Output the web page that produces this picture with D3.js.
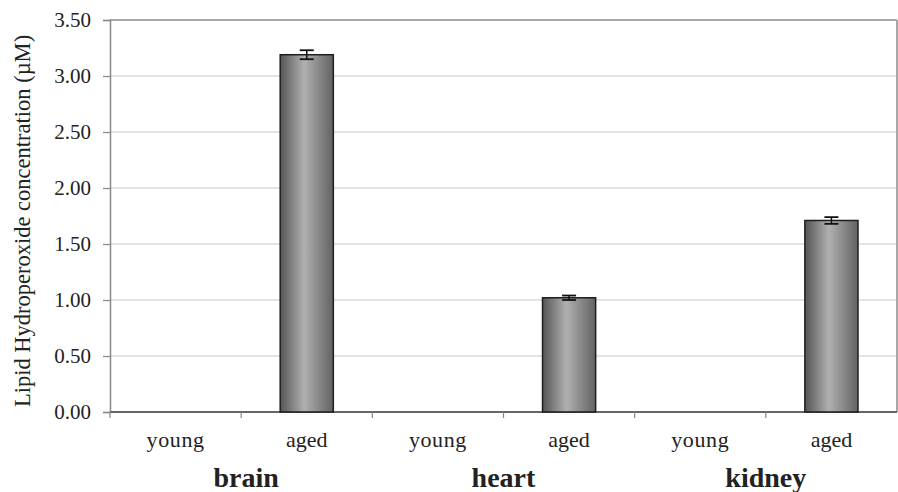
<!DOCTYPE html>
<html>
<head>
<meta charset="utf-8">
<script src="https://cdn.jsdelivr.net/npm/d3@7"></script>
<style>
  body { margin: 0; background: #fff; }
  text { font-family: "Liberation Serif", "Times New Roman", serif; fill: #222; }
</style>
</head>
<body>
<div id="chart"></div>
<script>
// data
var categories = ["brain-young", "brain-aged", "heart-young", "heart-aged", "kidney-young", "kidney-aged"];
var barLabels = ["young", "aged", "young", "aged", "young", "aged"];
var groups = ["brain", "heart", "kidney"];
var values = [0, 3.19, 0, 1.02, 0, 1.71];
var errors = [0, 0.04, 0, 0.02, 0, 0.03];
var yTicks = [0, 0.5, 1, 1.5, 2, 2.5, 3, 3.5];

var W = 898, H = 492;
var margin = {top: 20, right: 1, bottom: 80, left: 110},
    width = W - margin.left - margin.right,
    height = 412 - margin.top;

var svg = d3.select("#chart").append("svg")
    .attr("width", W)
    .attr("height", H);

var defs = svg.append("defs");
var grad = defs.append("linearGradient")
    .attr("id", "barfill")
    .attr("x1", "0%").attr("x2", "100%")
    .attr("y1", "0%").attr("y2", "0%");
grad.append("stop").attr("offset", "0%").attr("stop-color", "#555");
grad.append("stop").attr("offset", "45%").attr("stop-color", "#b0b0b0");
grad.append("stop").attr("offset", "100%").attr("stop-color", "#626262");

var g = svg.append("g")
    .attr("transform", "translate(" + margin.left + "," + margin.top + ")");

var x = d3.scaleBand()
    .domain(categories)
    .range([0, width])
    .padding(0);

var y = d3.scaleLinear()
    .domain([0, 3.5])
    .range([height, 0]);

// gridlines
g.selectAll(".grid")
  .data(yTicks.slice(1))
  .enter().append("line")
    .attr("class", "grid")
    .attr("x1", 0).attr("x2", width)
    .attr("y1", function(d) { return y(d); })
    .attr("y2", function(d) { return y(d); })
    .attr("stroke", function(d) { return d === 3.5 ? "#a8a8a8" : "#c8c8c8"; })
    .attr("stroke-width", function(d) { return d === 3.5 ? 2 : 1.2; });

// right border
g.append("line")
    .attr("x1", width).attr("x2", width)
    .attr("y1", 0).attr("y2", height)
    .attr("stroke", "#a8a8a8").attr("stroke-width", 2);

// y axis
var yAxis = d3.axisLeft(y)
    .tickValues(yTicks)
    .tickFormat(d3.format(".2f"))
    .tickSize(7)
    .tickPadding(12);

var ya = g.append("g").call(yAxis);
ya.select(".domain").attr("stroke", "#888").attr("stroke-width", 1.5);
ya.selectAll(".tick line").attr("stroke", "#888").attr("stroke-width", 1.2);
ya.selectAll(".tick text")
    .style("font-size", "21px")
    .attr("fill", "#222");

// x axis with ticks at category boundaries
var xa = g.append("g")
    .attr("transform", "translate(0," + height + ")");
xa.append("line")
    .attr("x1", 0).attr("x2", width)
    .attr("stroke", "#666").attr("stroke-width", 1.8);
xa.selectAll(".xtick")
  .data(categories)
  .enter().append("line")
    .attr("class", "xtick")
    .attr("x1", function(d) { return x(d); })
    .attr("x2", function(d) { return x(d); })
    .attr("y1", 0).attr("y2", 6)
    .attr("stroke", "#888").attr("stroke-width", 1.2);
xa.selectAll(".xlabel")
  .data(categories)
  .enter().append("text")
    .attr("class", "xlabel")
    .attr("x", function(d) { return x(d) + x.bandwidth() / 2; })
    .attr("y", 35)
    .attr("text-anchor", "middle")
    .style("font-size", "22px")
    .style("letter-spacing", function(d, i) { return barLabels[i] === "young" ? "0.6px" : "0px"; })
    .text(function(d, i) { return barLabels[i]; });

xa.selectAll(".glabel")
  .data(groups)
  .enter().append("text")
    .attr("class", "glabel")
    .attr("x", function(d, i) { return x(categories[i * 2 + 1]) + (i === 0 ? 5 : 0); })
    .attr("y", 75)
    .attr("text-anchor", "middle")
    .style("font-size", "28px")
    .style("font-weight", "bold")
    .attr("fill", "#111")
    .text(function(d) { return d; });

// bars
var bw = x.bandwidth() * 0.405;
g.selectAll(".bar")
  .data(values)
  .enter().append("rect")
    .attr("class", "bar")
    .attr("x", function(d, i) { return x(categories[i]) + (x.bandwidth() - bw) / 2; })
    .attr("width", bw)
    .attr("y", function(d) { return y(d); })
    .attr("height", function(d) { return height - y(d); })
    .attr("fill", "url(#barfill)")
    .attr("stroke", "#1e1e1e")
    .attr("stroke-width", 1.5);

// error bars
var eb = g.selectAll(".err")
  .data(values.map(function(v, i) { return {v: v, e: errors[i], c: categories[i]}; })
    .filter(function(d) { return d.v > 0; }))
  .enter().append("g").attr("class", "err");
eb.append("line")
    .attr("x1", function(d) { return x(d.c) + x.bandwidth() / 2; })
    .attr("x2", function(d) { return x(d.c) + x.bandwidth() / 2; })
    .attr("y1", function(d) { return y(d.v + d.e); })
    .attr("y2", function(d) { return y(d.v - d.e); })
    .attr("stroke", "#111").attr("stroke-width", 1.5);
eb.selectAll(".cap")
  .data(function(d) { return [d.v + d.e, d.v - d.e].map(function(v) { return {v: v, c: d.c}; }); })
  .enter().append("line")
    .attr("x1", function(d) { return x(d.c) + x.bandwidth() / 2 - 7; })
    .attr("x2", function(d) { return x(d.c) + x.bandwidth() / 2 + 7; })
    .attr("y1", function(d) { return y(d.v); })
    .attr("y2", function(d) { return y(d.v); })
    .attr("stroke", "#111").attr("stroke-width", 1.8);

// y title
svg.append("text")
    .attr("transform", "translate(30," + (margin.top + height / 2 + 5) + ") rotate(-90)")
    .attr("text-anchor", "middle")
    .style("font-size", "22.5px")
    .text("Lipid Hydroperoxide concentration (\u00b5M)");
</script>
</body>
</html>
